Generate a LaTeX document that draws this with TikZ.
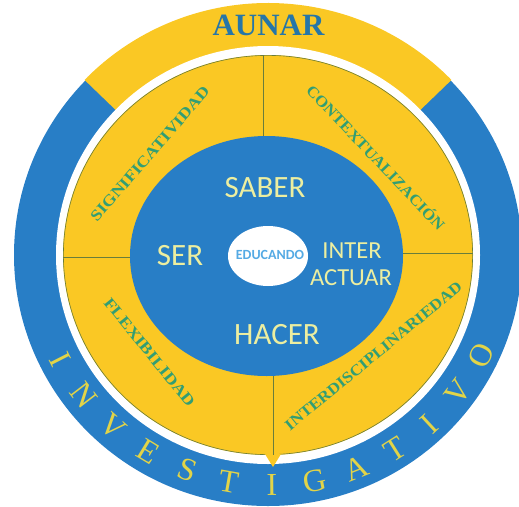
\documentclass[tikz,border=0pt]{standalone}
\usepackage{fontspec}
\usepackage{graphicx}
\setmainfont{Liberation Serif}
\newfontfamily\carlito{Carlito}
\usetikzlibrary{calc}
\definecolor{ringblue}{RGB}{40,126,198}
\definecolor{ringyellow}{RGB}{250,200,36}
\definecolor{labelgreen}{RGB}{50,158,115}
\definecolor{lineolive}{RGB}{105,125,60}
\definecolor{paleyellow}{RGB}{236,238,160}
\definecolor{lightblue}{RGB}{85,170,228}
\definecolor{aunarblue}{RGB}{38,118,168}
\definecolor{invyellow}{RGB}{226,212,72}
\begin{document}
\begin{tikzpicture}[x=1pt,y=-1pt,
  ringlabel/.style={text=labelgreen,font=\bfseries\fontsize{15.5}{15.5}\selectfont,inner sep=0pt},
  coretext/.style={text=paleyellow,font=\carlito\fontsize{31}{31}\selectfont,inner sep=0pt},
  smallcore/.style={text=paleyellow,font=\carlito\fontsize{24.5}{24.5}\selectfont,inner sep=0pt},
  invletter/.style={text=invyellow,font=\fontsize{32}{32}\selectfont,inner sep=0pt},
  divline/.style={draw=lineolive,line width=0.8pt}]
\useasboundingbox (0,0) rectangle (519,506);
\coordinate (C) at (268,255);
% outer blue ring
\fill[ringblue] (C) ellipse[x radius=254,y radius=251];
% yellow top band
\fill[ringyellow] ($(C)+(-136:211 and 208)$)
  arc[start angle=-136,end angle=-44,x radius=211,y radius=208]
  -- ($(C)+(-44:255 and 252)$)
  arc[start angle=-44,end angle=-136,x radius=255,y radius=252] -- cycle;
% white gap
\fill[white] (C) ellipse[x radius=212,y radius=209];
% yellow middle ring
\fill[ringyellow] (C) ellipse[x radius=205,y radius=200];
\draw[lineolive,line width=0.6pt] (C) ellipse[x radius=204.6,y radius=199.6];
% small pointer at the bottom
\fill[ringyellow] (265,454) -- (281,454) -- (273,467) -- cycle;
% inner blue ellipse
\fill[ringblue] (266.5,256) ellipse[x radius=136.5,y radius=120];
% division lines
\coordinate (tIn) at (263,136);  \coordinate (tOut) at (263,55);
\coordinate (bIn) at (273,376);  \coordinate (bOut) at (273,455);
\coordinate (lIn) at (130,257);  \coordinate (lOut) at (63,257);
\coordinate (rIn) at (403,253);  \coordinate (rOut) at (473,253);
\draw[divline] (tIn) -- (tOut);
\draw[divline] (bIn) -- (bOut);
\draw[divline] (lIn) -- (lOut);
\draw[divline] (rIn) -- (rOut);
% centre
\fill[white] (268,256) ellipse[x radius=40,y radius=30];
\node[text=lightblue,font=\carlito\bfseries\fontsize{14}{14}\selectfont,inner sep=0pt] (edu) at (270,255) {EDUCANDO};
% core words
\node[coretext] (saber) at (265,187.5) {SABER};
\node[coretext] (ser) at (180,256) {SER};
\node[coretext] (hacer) at (277,335) {HACER};
\node[smallcore] (inter) at (352,250.5) {INTER};
\node[smallcore] (actuar) at (351,277.5) {ACTUAR};
% ring labels
\node[ringlabel,rotate=49] (sig) at (150,154) {\resizebox{173pt}{\height}{SIGNIFICATIVIDAD}};
\node[ringlabel,rotate=-46.5] (con) at (376.5,157) {\resizebox{193pt}{\height}{CONTEXTUALIZACIÓN}};
\node[ringlabel,rotate=-51] (flex) at (149.5,352.5) {\resizebox{135pt}{\height}{FLEXIBILIDAD}};
\node[ringlabel,rotate=39.4] (interd) at (373.5,356) {\resizebox{224pt}{\height}{INTERDISCIPLINARIEDAD}};
% AUNAR
\node[text=aunarblue,font=\bfseries\fontsize{31}{31}\selectfont,inner sep=0pt] (aunar) at (268.5,25) {AUNAR};
% INVESTIGATIVO
\foreach \ch [count=\i from 0] in {I,N,V,E,S,T,I,G,A,T,I,V,O} {
  \pgfmathsetmacro{\ang}{207+\i*10.58}
  \node[invletter,rotate=\ang+90] (inv\i) at ($(270,255)+(-\ang:235 and 230)$) {\ch};
}
\end{tikzpicture}
\end{document}
